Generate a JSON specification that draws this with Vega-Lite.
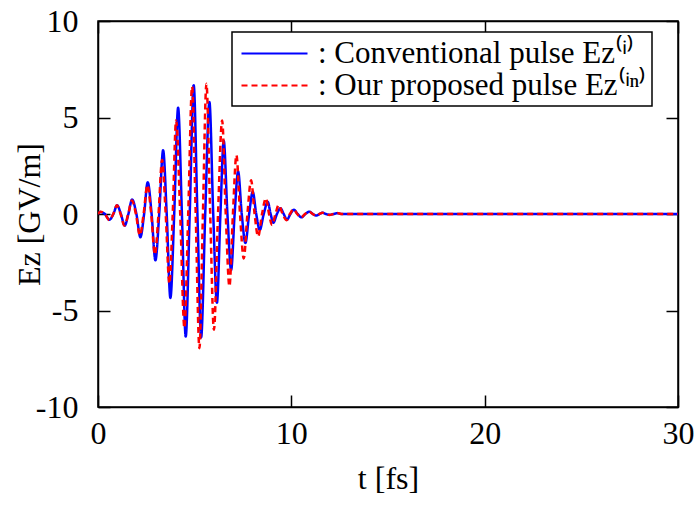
{
  "$schema": "https://vega.github.io/schema/vega-lite/v6.json",
  "width": 580,
  "height": 386,
  "autosize": {"type": "none"},
  "padding": {"left": 98, "top": 21, "right": 17, "bottom": 100},
  "background": "white",
  "config": {
    "view": {"stroke": "black", "strokeWidth": 1.5},
    "font": "Liberation Serif",
    "axis": {
      "labelFont": "Liberation Serif", "labelFontSize": 32, "labelColor": "black", "labelFlush": false,
      "labelExpr": "toString(datum.value)",
      "titleFont": "Liberation Serif", "titleFontSize": 32, "titleColor": "black", "titleFontWeight": "normal",
      "grid": false, "domainColor": "black", "tickColor": "black", "domainWidth": 1.5, "tickWidth": 1.5, "tickSize": -12
    },
    "legend": {
      "orient": "none", "legendX": 134, "legendY": 11, "title": null,
      "fillColor": "white", "strokeColor": "black", "strokeWidth": 1.5, "padding": 5,
      "symbolType": "M-0.8,0H3.6", "symbolSize": 900, "symbolStrokeWidth": 2.2,
      "labelFont": "Liberation Serif", "labelFontSize": 31, "labelColor": "black", "labelLimit": 0,
      "labelOffset": 48, "rowPadding": -5
    }
  },
  "datasets": {
    "pulses": [
      {"t": 0.0, "E": 0.0, "series": "Conventional"},
      {"t": 0.124, "E": 0.1, "series": "Conventional"},
      {"t": 0.357, "E": 0, "series": "Conventional"},
      {"t": 0.59, "E": -0.3, "series": "Conventional"},
      {"t": 0.797, "E": 0, "series": "Conventional"},
      {"t": 0.988, "E": 0.45, "series": "Conventional"},
      {"t": 1.185, "E": 0, "series": "Conventional"},
      {"t": 1.381, "E": -0.6, "series": "Conventional"},
      {"t": 1.573, "E": 0, "series": "Conventional"},
      {"t": 1.764, "E": 0.75, "series": "Conventional"},
      {"t": 1.987, "E": 0, "series": "Conventional"},
      {"t": 2.193, "E": -1.2, "series": "Conventional"},
      {"t": 2.385, "E": 0, "series": "Conventional"},
      {"t": 2.571, "E": 1.65, "series": "Conventional"},
      {"t": 2.773, "E": 0, "series": "Conventional"},
      {"t": 2.969, "E": -2.4, "series": "Conventional"},
      {"t": 3.166, "E": 0, "series": "Conventional"},
      {"t": 3.368, "E": 3.3, "series": "Conventional"},
      {"t": 3.554, "E": 0, "series": "Conventional"},
      {"t": 3.745, "E": -4.35, "series": "Conventional"},
      {"t": 3.942, "E": 0, "series": "Conventional"},
      {"t": 4.144, "E": 5.5, "series": "Conventional"},
      {"t": 4.34, "E": 0, "series": "Conventional"},
      {"t": 4.537, "E": -6.35, "series": "Conventional"},
      {"t": 4.744, "E": 0, "series": "Conventional"},
      {"t": 4.951, "E": 6.67, "series": "Conventional"},
      {"t": 5.142, "E": 0, "series": "Conventional"},
      {"t": 5.334, "E": -6.4, "series": "Conventional"},
      {"t": 5.546, "E": 0, "series": "Conventional"},
      {"t": 5.763, "E": 5.8, "series": "Conventional"},
      {"t": 5.96, "E": 0, "series": "Conventional"},
      {"t": 6.151, "E": -4.6, "series": "Conventional"},
      {"t": 6.332, "E": 0, "series": "Conventional"},
      {"t": 6.503, "E": 3.8, "series": "Conventional"},
      {"t": 6.694, "E": 0, "series": "Conventional"},
      {"t": 6.886, "E": -2.9, "series": "Conventional"},
      {"t": 7.067, "E": 0, "series": "Conventional"},
      {"t": 7.248, "E": 2.2, "series": "Conventional"},
      {"t": 7.434, "E": 0, "series": "Conventional"},
      {"t": 7.625, "E": -1.5, "series": "Conventional"},
      {"t": 7.817, "E": 0, "series": "Conventional"},
      {"t": 8.003, "E": 1.15, "series": "Conventional"},
      {"t": 8.184, "E": 0, "series": "Conventional"},
      {"t": 8.365, "E": -0.83, "series": "Conventional"},
      {"t": 8.572, "E": 0, "series": "Conventional"},
      {"t": 8.779, "E": 0.63, "series": "Conventional"},
      {"t": 8.929, "E": 0, "series": "Conventional"},
      {"t": 9.074, "E": -0.45, "series": "Conventional"},
      {"t": 9.255, "E": 0, "series": "Conventional"},
      {"t": 9.436, "E": 0.3, "series": "Conventional"},
      {"t": 9.607, "E": 0, "series": "Conventional"},
      {"t": 9.772, "E": -0.3, "series": "Conventional"},
      {"t": 9.953, "E": 0, "series": "Conventional"},
      {"t": 10.135, "E": 0.22, "series": "Conventional"},
      {"t": 10.326, "E": 0, "series": "Conventional"},
      {"t": 10.522, "E": -0.17, "series": "Conventional"},
      {"t": 10.729, "E": 0, "series": "Conventional"},
      {"t": 10.936, "E": 0.12, "series": "Conventional"},
      {"t": 11.117, "E": 0, "series": "Conventional"},
      {"t": 11.298, "E": -0.08, "series": "Conventional"},
      {"t": 11.453, "E": 0, "series": "Conventional"},
      {"t": 11.609, "E": 0.07, "series": "Conventional"},
      {"t": 11.79, "E": 0, "series": "Conventional"},
      {"t": 11.971, "E": -0.04, "series": "Conventional"},
      {"t": 12.178, "E": 0, "series": "Conventional"},
      {"t": 12.385, "E": 0.04, "series": "Conventional"},
      {"t": 12.592, "E": 0, "series": "Conventional"},
      {"t": 30, "E": 0, "series": "Conventional"},
      {"t": 0.0, "E": 0.0, "series": "Proposed"},
      {"t": 0.124, "E": 0.12, "series": "Proposed"},
      {"t": 0.357, "E": 0, "series": "Proposed"},
      {"t": 0.59, "E": -0.32, "series": "Proposed"},
      {"t": 0.786, "E": 0, "series": "Proposed"},
      {"t": 0.978, "E": 0.45, "series": "Proposed"},
      {"t": 1.169, "E": 0, "series": "Proposed"},
      {"t": 1.366, "E": -0.6, "series": "Proposed"},
      {"t": 1.562, "E": 0, "series": "Proposed"},
      {"t": 1.754, "E": 0.7, "series": "Proposed"},
      {"t": 1.961, "E": 0, "series": "Proposed"},
      {"t": 2.168, "E": -1.1, "series": "Proposed"},
      {"t": 2.359, "E": 0, "series": "Proposed"},
      {"t": 2.556, "E": 1.5, "series": "Proposed"},
      {"t": 2.752, "E": 0, "series": "Proposed"},
      {"t": 2.944, "E": -2.1, "series": "Proposed"},
      {"t": 3.13, "E": 0, "series": "Proposed"},
      {"t": 3.316, "E": 2.8, "series": "Proposed"},
      {"t": 3.502, "E": 0, "series": "Proposed"},
      {"t": 3.694, "E": -3.6, "series": "Proposed"},
      {"t": 3.865, "E": 0, "series": "Proposed"},
      {"t": 4.04, "E": 4.85, "series": "Proposed"},
      {"t": 4.252, "E": 0, "series": "Proposed"},
      {"t": 4.47, "E": -5.9, "series": "Proposed"},
      {"t": 4.666, "E": 0, "series": "Proposed"},
      {"t": 4.868, "E": 6.6, "series": "Proposed"},
      {"t": 5.054, "E": 0, "series": "Proposed"},
      {"t": 5.246, "E": -6.95, "series": "Proposed"},
      {"t": 5.427, "E": 0, "series": "Proposed"},
      {"t": 5.608, "E": 6.75, "series": "Proposed"},
      {"t": 5.804, "E": 0, "series": "Proposed"},
      {"t": 5.996, "E": -6.0, "series": "Proposed"},
      {"t": 6.208, "E": 0, "series": "Proposed"},
      {"t": 6.42, "E": 4.85, "series": "Proposed"},
      {"t": 6.607, "E": 0, "series": "Proposed"},
      {"t": 6.798, "E": -3.75, "series": "Proposed"},
      {"t": 6.979, "E": 0, "series": "Proposed"},
      {"t": 7.16, "E": 3.05, "series": "Proposed"},
      {"t": 7.346, "E": 0, "series": "Proposed"},
      {"t": 7.538, "E": -2.3, "series": "Proposed"},
      {"t": 7.729, "E": 0, "series": "Proposed"},
      {"t": 7.92, "E": 1.75, "series": "Proposed"},
      {"t": 8.101, "E": 0, "series": "Proposed"},
      {"t": 8.282, "E": -1.17, "series": "Proposed"},
      {"t": 8.484, "E": 0, "series": "Proposed"},
      {"t": 8.686, "E": 0.82, "series": "Proposed"},
      {"t": 8.846, "E": 0, "series": "Proposed"},
      {"t": 9.007, "E": -0.57, "series": "Proposed"},
      {"t": 9.178, "E": 0, "series": "Proposed"},
      {"t": 9.348, "E": 0.46, "series": "Proposed"},
      {"t": 9.55, "E": 0, "series": "Proposed"},
      {"t": 9.747, "E": -0.32, "series": "Proposed"},
      {"t": 9.928, "E": 0, "series": "Proposed"},
      {"t": 10.109, "E": 0.25, "series": "Proposed"},
      {"t": 10.305, "E": 0, "series": "Proposed"},
      {"t": 10.497, "E": -0.18, "series": "Proposed"},
      {"t": 10.704, "E": 0, "series": "Proposed"},
      {"t": 10.911, "E": 0.13, "series": "Proposed"},
      {"t": 11.102, "E": 0, "series": "Proposed"},
      {"t": 11.298, "E": -0.09, "series": "Proposed"},
      {"t": 11.453, "E": 0, "series": "Proposed"},
      {"t": 11.609, "E": 0.07, "series": "Proposed"},
      {"t": 11.79, "E": 0, "series": "Proposed"},
      {"t": 11.971, "E": -0.05, "series": "Proposed"},
      {"t": 12.178, "E": 0, "series": "Proposed"},
      {"t": 12.385, "E": 0.05, "series": "Proposed"},
      {"t": 12.592, "E": 0, "series": "Proposed"},
      {"t": 30, "E": 0, "series": "Proposed"}
    ]
  },
  "data": {"name": "pulses"},
  "layer": [
    {
      "mark": {"type": "line", "opacity": 0},
      "encoding": {
        "x": {"field": "t", "type": "quantitative", "scale": {"domain": [0, 30]},
              "axis": {"orient": "top", "labels": false, "title": null, "values": [0, 10, 20, 30]}},
        "y": {"field": "E", "type": "quantitative", "scale": {"domain": [-10, 10]},
              "axis": {"orient": "right", "labels": false, "title": null, "values": [-10, -5, 0, 5, 10]}}
      }
    },
    {
      "mark": {"type": "line", "interpolate": "monotone", "strokeWidth": 2.5, "clip": true},
      "encoding": {
        "x": {"field": "t", "type": "quantitative", "scale": {"domain": [0, 30]},
              "axis": {"orient": "bottom", "values": [0, 10, 20, 30], "title": "t [fs]", "labelPadding": 23, "titlePadding": 14}},
        "y": {"field": "E", "type": "quantitative", "scale": {"domain": [-10, 10]},
              "axis": {"orient": "left", "values": [-10, -5, 0, 5, 10], "title": "Ez [GV/m]", "labelPadding": 32, "titleX": -52, "titleY": 193}},
        "color": {"field": "series", "type": "nominal",
                  "scale": {"domain": ["Conventional", "Proposed"], "range": ["#0000ff", "#ff0000"]},
                  "legend": {"labelExpr": "datum.label == 'Conventional' ? ': Conventional pulse Ez⁽ⁱ⁾' : ': Our proposed pulse Ez⁽ⁱⁿ⁾'"}},
        "strokeDash": {"field": "series", "type": "nominal",
                       "scale": {"domain": ["Conventional", "Proposed"], "range": [[1, 0], [6, 4]]},
                       "legend": {"labelExpr": "datum.label == 'Conventional' ? ': Conventional pulse Ez⁽ⁱ⁾' : ': Our proposed pulse Ez⁽ⁱⁿ⁾'"}}
      }
    }
  ],
  "resolve": {"axis": {"x": "independent", "y": "independent"}}
}
